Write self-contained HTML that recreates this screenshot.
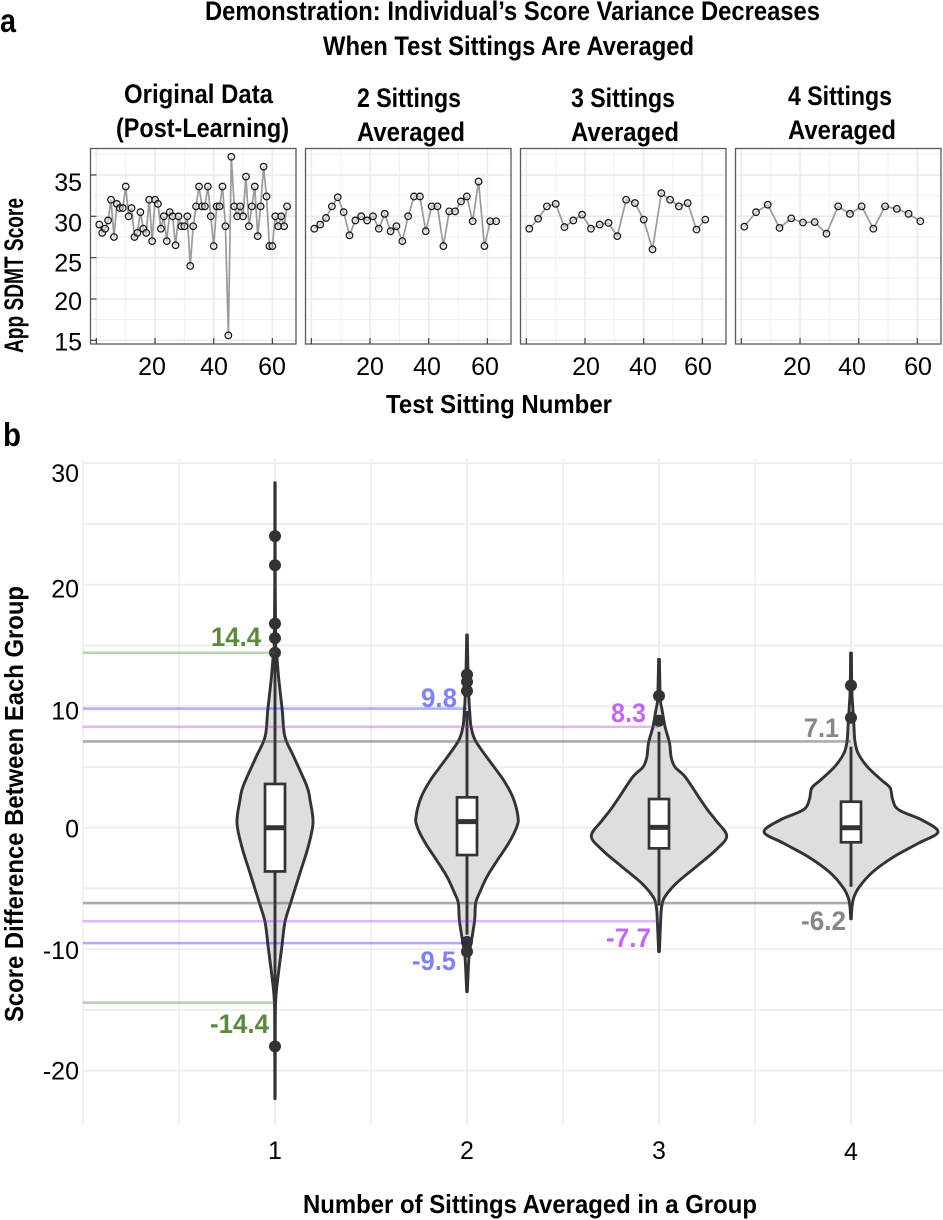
<!DOCTYPE html>
<html lang="en">
<head>
<meta charset="utf-8">
<title>Individual's Score Variance Decreases When Test Sittings Are Averaged</title>
<style>
html,body{margin:0;padding:0;background:#fff;}
svg{display:block;font-family:"Liberation Sans",sans-serif;}
.bold{font-weight:700;fill:#000;}
</style>
</head>
<body>
<svg id="figure" width="943" height="1220" viewBox="0 0 943 1220" xmlns="http://www.w3.org/2000/svg">
  <rect width="943" height="1220" fill="#fff"/>
  <text class="bold" x="0" y="32" font-size="33" textLength="16" lengthAdjust="spacingAndGlyphs">a</text>
  <text class="bold" x="3" y="446" font-size="33" textLength="18" lengthAdjust="spacingAndGlyphs">b</text>
  <text class="bold" x="205" y="20" font-size="27" textLength="615" lengthAdjust="spacingAndGlyphs">Demonstration: Individual’s Score Variance Decreases</text>
  <text class="bold" x="323" y="55" font-size="27" textLength="371" lengthAdjust="spacingAndGlyphs">When Test Sittings Are Averaged</text>
  <text class="bold" x="124" y="103" font-size="27" textLength="149" lengthAdjust="spacingAndGlyphs">Original Data</text>
  <text class="bold" x="116" y="137" font-size="27" textLength="173" lengthAdjust="spacingAndGlyphs">(Post-Learning)</text>
  <text class="bold" x="357" y="107" font-size="27" textLength="104" lengthAdjust="spacingAndGlyphs">2 Sittings</text>
  <text class="bold" x="357" y="141" font-size="27" textLength="108" lengthAdjust="spacingAndGlyphs">Averaged</text>
  <text class="bold" x="571" y="107" font-size="27" textLength="104" lengthAdjust="spacingAndGlyphs">3 Sittings</text>
  <text class="bold" x="571" y="141" font-size="27" textLength="108" lengthAdjust="spacingAndGlyphs">Averaged</text>
  <text class="bold" x="788" y="105" font-size="27" textLength="104" lengthAdjust="spacingAndGlyphs">4 Sittings</text>
  <text class="bold" x="788" y="139" font-size="27" textLength="108" lengthAdjust="spacingAndGlyphs">Averaged</text>
  <text class="bold" transform="translate(23 353) rotate(-90)" font-size="27" textLength="155" lengthAdjust="spacingAndGlyphs">App SDMT Score</text>
  <text class="bold" x="386" y="413" font-size="26" textLength="226" lengthAdjust="spacingAndGlyphs">Test Sitting Number</text>
  <text class="bold" transform="translate(23 1022) rotate(-90)" font-size="26" textLength="436" lengthAdjust="spacingAndGlyphs">Score Difference Between Each Group</text>
  <text class="bold" x="303" y="1213" font-size="26" textLength="454" lengthAdjust="spacingAndGlyphs">Number of Sittings Averaged in a Group</text>
  <g id="panels"></g>
  <g id="violins"></g>
</svg>
<script>
/* ---------- Panel a data ---------- */
const sittingGroupSizes = [1, 2, 3, 4];
const original = [29,28,28.5,29.5,32,27.5,31.5,31,31,33.6,30,31,27.5,28,30.5,28.5,28,32,27,32,31.5,28.5,30,27,30.5,30,26.5,30,28.8,28.8,30,24,28.8,31.2,33.6,31.2,31.2,33.6,30,26.4,31.2,31.2,33.6,28.8,15.6,37.2,31.2,30,31.2,30,34.8,28.8,31.2,33.6,27.6,31.2,36,32.4,26.4,26.4,30,28.8,30,28.8,31.2];
const averaged2 = [28.5,29,29.8,31.2,32.3,30.5,27.7,29.5,30,29.5,30,28.5,30.3,28.2,28.8,27,30,32.4,32.4,28.2,31.2,31.2,26.4,30.6,30.6,31.8,32.4,29.4,34.2,26.4,29.4,29.4];
const averaged3 = [28.5,29.7,31.2,31.5,28.7,29.5,30.2,28.5,29,29.2,27.6,32,31.6,29.6,26,32.8,32,31.2,31.6,28.4,29.6];
const averaged4 = [28.75,30.5,31.4,28.6,29.75,29.25,29.3,27.9,31.2,30.3,31.2,28.5,31.2,30.9,30.3,29.4];
const panelSeries = [original, averaged2, averaged3, averaged4];
const panelYTicks = [15, 20, 25, 30, 35];
const panelYMinorTicks = [17.5, 22.5, 27.5, 32.5, 37.5];
const panelXTicks = [0, 20, 40, 60];
const panelXMinorTicks = [10, 30, 50];
const panelXTickLabels = ['', '20', '40', '60'];

/* ---------- Panel b data ---------- */
const violinGroups = ['1', '2', '3', '4'];
const violinPeaks = [0.437, 0.586, 0.778, 1];
const violin1Scores = [28.4,20,14.46,14,12.2,9.7,7.5,5.8,3.4,2.3,0.4,-1.6,-3.7,-6.2,-7.8,-9.8,-12.5,-14.4,-18,-22.3];
const violin1Density = [0.004,0.006,0.02,0.05,0.1,0.19,0.26,0.5,0.84,0.92,1,0.87,0.66,0.41,0.26,0.18,0.07,0.015,0.006,0.004];
const violin2Scores = [15.86,13.8,11.3,9.1,8.2,7.05,5,3.9,2.5,0.9,0.06,-1.25,-2.65,-4.05,-5.37,-6.2,-7.6,-9.25,-10.6,-13.5];
const violin2Density = [0.006,0.015,0.03,0.06,0.085,0.18,0.53,0.72,0.9,1,0.975,0.82,0.6,0.39,0.245,0.17,0.15,0.09,0.04,0.006];
const violin3Scores = [13.86,12.15,10.5,9.7,8.3,6.97,5.8,5,4.2,2.5,1.45,0.6,-0.68,-1.83,-3.2,-4.55,-5.7,-6.5,-7.6,-10.2];
const violin3Density = [0.006,0.012,0.02,0.045,0.09,0.155,0.18,0.235,0.385,0.59,0.72,0.84,1,0.84,0.55,0.26,0.085,0.04,0.025,0.006];
const violin4Scores = [14.37,11.7,10.5,8.6,7.2,6.15,5,3.9,3.27,2.28,1.46,0.63,-0.35,-1.26,-2.4,-3.7,-4.88,-5.7,-6.5,-7.5];
const violin4Density = [0.005,0.008,0.015,0.032,0.044,0.08,0.19,0.354,0.45,0.48,0.55,0.816,1,0.78,0.49,0.24,0.095,0.034,0.012,0.003];
const violinScores = [violin1Scores, violin2Scores, violin3Scores, violin4Scores];
const violinDensity = [violin1Density, violin2Density, violin3Density, violin4Density];
const boxQ1 = [-3.6, -2.25, -1.7, -1.2];
const boxMedian = [0, 0.5, 0.03, 0];
const boxQ3 = [3.6, 2.5, 2.36, 2.14];
const whiskerLow = [-14, -8.8, -6.4, -4.86];
const whiskerHigh = [14, 9.6, 7.9, 6.67];
const outlier1 = [24, 21.6, 16.8, 15.6, 14.4, -18];
const outlier2 = [12.6, 12, 11.25, -9.4, -10.2];
const outlier3 = [10.85, 8.8];
const outlier4 = [11.7, 9.05];
const outliers = [outlier1, outlier2, outlier3, outlier4];
const upperBounds = [14.4, 9.8, 8.3, 7.1];
const lowerBounds = [-14.4, -9.5, -7.7, -6.2];
const boundUpperLabels = ['14.4', '9.8', '8.3', '7.1'];
const boundLowerLabels = ['-14.4', '-9.5', '-7.7', '-6.2'];
const violinYTicks = [-20, -10, 0, 10, 20, 30];
const violinYMinorTicks = [-15, -5, 5, 15, 25];
const violinYTickLabels = ['-20', '-10', '0', '10', '20', '30'];
const violinXMinorTicks = [0, 0.5, 1.5, 2.5, 3.5];

/* ---------- Helpers ---------- */
const NS = 'http://www.w3.org/2000/svg';
function make(parent, tag, attrs, content) {
  const el = document.createElementNS(NS, tag);
  for (const k in attrs) el.setAttribute(k, attrs[k]);
  if (content !== undefined) el.textContent = content;
  parent.appendChild(el);
  return el;
}

/* ---------- Panel a ---------- */
const panelGroup = document.getElementById('panels');
const panelLefts = [90.5, 305.5, 520.5, 735.5];
const panelWidth = 205.5, panelTop = 148.5, panelBottom = 344;
const panelY = v => 216.3 - (v - 30) * 8.27;
const panelX = (p, x) => panelLefts[p] + (x + 2) * 2.9333;
const panelLabelX = [[152, 214, 272], [370, 427, 485], [586, 643, 698], [797, 852, 918]];
const panelYLabelOffset = {15: 10, 20: 11, 25: 14, 30: 15, 35: 16};

panelSeries.forEach((series, p) => {
  const g = make(panelGroup, 'g', {});
  
  
  const left = panelLefts[p], right = left + panelWidth;
  panelYMinorTicks.forEach(t => {
    const line = make(g, 'line', {x1: left, x2: right, y1: panelY(t), y2: panelY(t), stroke: '#f0f0f0', 'stroke-width': 1});
    
    
  });
  panelXMinorTicks.forEach(t => {
    const line = make(g, 'line', {x1: panelX(p, t), x2: panelX(p, t), y1: panelTop, y2: panelBottom, stroke: '#f0f0f0', 'stroke-width': 1});
    
    
  });
  panelYTicks.forEach(t => {
    const line = make(g, 'line', {x1: left, x2: right, y1: panelY(t), y2: panelY(t), stroke: '#ebebeb', 'stroke-width': 1.6});
    
    
  });
  panelXTicks.forEach(t => {
    const line = make(g, 'line', {x1: panelX(p, t), x2: panelX(p, t), y1: panelTop, y2: panelBottom, stroke: '#ebebeb', 'stroke-width': 1.6});
    
    
  });
  const xs = series.map((_, i) => panelX(p, 1 + i * sittingGroupSizes[p]));
  const ys = series.map(v => panelY(v));
  const trace = make(g, 'polyline', {points: xs.map((x, i) => x.toFixed(2) + ',' + ys[i].toFixed(2)).join(' '), fill: 'none', stroke: '#9a9a9a', 'stroke-width': 1.7});
  
  
  series.forEach((v, i) => {
    const c = make(g, 'circle', {cx: xs[i], cy: ys[i], r: 3.3, fill: 'rgba(225,225,225,0.5)', stroke: '#111', 'stroke-width': 1.2});
    
    
  });
  const frame = make(g, 'rect', {x: left, y: panelTop, width: panelWidth, height: panelBottom - panelTop, fill: 'none', stroke: '#5a5a5a', 'stroke-width': 1.3});
  
  
  panelXTicks.forEach(t => {
    const tick = make(g, 'line', {x1: panelX(p, t), x2: panelX(p, t), y1: panelBottom - 6, y2: panelBottom, stroke: '#444', 'stroke-width': 1.2});
    
    
  });
  panelXTickLabels.forEach((label, i) => {
    if (!label) return;
    const txt = make(g, 'text', {x: panelLabelX[p][i - 1], y: 375, 'font-size': 25, 'text-anchor': 'middle', fill: '#000'}, label);
    
    
  });
  if (p === 0) {
    panelYTicks.forEach(t => {
      const tick = make(g, 'line', {x1: left, x2: left + 6, y1: panelY(t), y2: panelY(t), stroke: '#444', 'stroke-width': 1.2});
      
      
      const txt = make(g, 'text', {x: 82, y: panelY(t) + panelYLabelOffset[t], 'font-size': 25, 'text-anchor': 'end', fill: '#000'}, String(t));
      
      
    });
  }
});

/* ---------- Panel b ---------- */
const violinGroup = document.getElementById('violins');
const vLeft = 83, vRight = 943, vTop = 459, vBottom = 1125;
const violinY = v => 827.7 - v * 12.15;
const violinX = g => 83 + g * 192;
const densityWidth = 87;
const violinYLabelOffset = {'-20': 9, '-10': 10, '0': 10, '10': 13.5, '20': 13, '30': 19};

function smooth(pts) {
  let d = '';
  for (let i = 0; i < pts.length - 1; i++) {
    const p0 = pts[Math.max(i - 1, 0)], p1 = pts[i], p2 = pts[i + 1], p3 = pts[Math.min(i + 2, pts.length - 1)];
    const c1x = p1[0] + (p2[0] - p0[0]) / 6, c1y = p1[1] + (p2[1] - p0[1]) / 6;
    const c2x = p2[0] - (p3[0] - p1[0]) / 6, c2y = p2[1] - (p3[1] - p1[1]) / 6;
    d += ' C' + c1x.toFixed(2) + ' ' + c1y.toFixed(2) + ' ' + c2x.toFixed(2) + ' ' + c2y.toFixed(2) + ' ' + p2[0].toFixed(2) + ' ' + p2[1].toFixed(2);
  }
  return d;
}

violinYMinorTicks.concat(violinYTicks).forEach(t => {
  const line = make(violinGroup, 'line', {x1: vLeft, x2: vRight, y1: violinY(t), y2: violinY(t), stroke: '#eeeeee', 'stroke-width': 1.8});
  
  
});
violinXMinorTicks.concat([1, 2, 3, 4]).forEach(t => {
  const line = make(violinGroup, 'line', {x1: violinX(t), x2: violinX(t), y1: vTop, y2: vBottom, stroke: '#eeeeee', 'stroke-width': t % 1 === 0 && t > 0 ? 2.2 : 1.5});
  
  
});
violinYTicks.forEach((t, i) => {
  const txt = make(violinGroup, 'text', {x: 79, y: violinY(t) + violinYLabelOffset[t], 'font-size': 25, 'text-anchor': 'end', fill: '#000'}, violinYTickLabels[i]);
  
  
});

violinGroups.forEach((label, i) => {
  const cx = violinX(i + 1);
  const g = make(violinGroup, 'g', {});
  
  
  const scores = violinScores[i], dens = violinDensity[i];
  const hw = dens.map(d => d * violinPeaks[i] * densityWidth);
  const rightPts = scores.map((s, k) => [cx + hw[k], violinY(s)]);
  const leftPts = scores.map((s, k) => [cx - hw[k], violinY(s)]).reverse();
  const d = 'M' + rightPts[0][0].toFixed(2) + ' ' + rightPts[0][1].toFixed(2) + smooth(rightPts) + ' L' + leftPts[0][0].toFixed(2) + ' ' + leftPts[0][1].toFixed(2) + smooth(leftPts) + ' Z';
  const body = make(g, 'path', {d: d, fill: '#dedede', stroke: '#333', 'stroke-width': 2.9, 'stroke-linejoin': 'round'});
  
  
  const whisker = make(g, 'line', {x1: cx, x2: cx, y1: violinY(whiskerHigh[i]), y2: violinY(whiskerLow[i]), stroke: '#333', 'stroke-width': 2.9});
  
  
  const box = make(g, 'rect', {x: cx - 10, y: violinY(boxQ3[i]), width: 20, height: violinY(boxQ1[i]) - violinY(boxQ3[i]), fill: '#fff', stroke: '#333', 'stroke-width': 2.7});
  
  
  const median = make(g, 'line', {x1: cx - 10, x2: cx + 10, y1: violinY(boxMedian[i]), y2: violinY(boxMedian[i]), stroke: '#333', 'stroke-width': 5});
  
  
  outliers[i].forEach(v => {
    const c = make(g, 'circle', {cx: cx, cy: violinY(v), r: 6, fill: '#333'});
    
    
  });
  const xl = make(g, 'text', {x: cx, y: i === 3 ? 1160 : 1159, 'font-size': 25, 'text-anchor': 'middle', fill: '#000'}, label);
  
  
});

const boundColors = ['rgba(46,125,30,0.34)', 'rgba(0,0,255,0.32)', 'rgba(160,32,240,0.32)', 'rgba(70,70,70,0.45)'];
const labelColors = ['#5b8a3c', '#8080ff', '#c266ff', '#878787'];
const upperLabelBox = [[211, 50, 646], [421, 36, 707], [611, 35, 722], [804, 35, 737]];
const lowerLabelBox = [[210, 59, 1033], [412, 44, 970], [606, 45, 947], [801, 45, 930]];
violinGroups.forEach((_, i) => {
  const xEnd = violinX(i + 1);
  [upperBounds[i], lowerBounds[i]].forEach(b => {
    const line = make(violinGroup, 'line', {x1: vLeft, x2: xEnd, y1: violinY(b), y2: violinY(b), stroke: boundColors[i], 'stroke-width': 2.6});
    
    
  });
  const up = make(violinGroup, 'text', {x: upperLabelBox[i][0], y: upperLabelBox[i][2], 'font-size': 27, 'font-weight': 700, fill: labelColors[i], textLength: upperLabelBox[i][1], lengthAdjust: 'spacingAndGlyphs'}, boundUpperLabels[i]);
  
  
  const low = make(violinGroup, 'text', {x: lowerLabelBox[i][0], y: lowerLabelBox[i][2], 'font-size': 27, 'font-weight': 700, fill: labelColors[i], textLength: lowerLabelBox[i][1], lengthAdjust: 'spacingAndGlyphs'}, boundLowerLabels[i]);
  
  
});
</script>
</body>
</html>
